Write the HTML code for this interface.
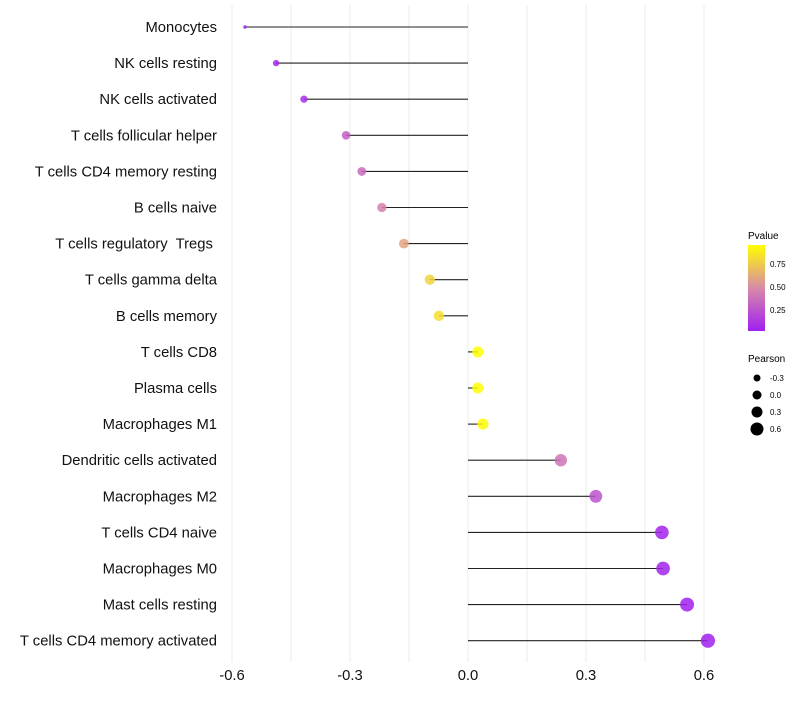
<!DOCTYPE html>
<html><head><meta charset="utf-8"><style>
body{margin:0;background:#fff;font-family:"Liberation Sans",sans-serif;}
svg text{font-family:"Liberation Sans",sans-serif;white-space:pre;}
</style></head><body>
<svg id="chart" width="800" height="700" xmlns="http://www.w3.org/2000/svg">
<defs><linearGradient id="pg" x1="0" y1="1" x2="0" y2="0">
<stop offset="0" stop-color="#a020f0"/><stop offset="0.5" stop-color="#d88aa8"/><stop offset="1" stop-color="#ffff00"/>
</linearGradient></defs>
<g id="grid"></g>
<g id="marks"></g>
<g id="ylabels"></g>
<g id="xlabels"></g>
<g>
<text x="748" y="239" font-size="10">Pvalue</text>
<rect x="748" y="245" width="17" height="86" fill="url(#pg)"/>
<text x="770" y="267" font-size="8">0.75</text>
<text x="770" y="290" font-size="8">0.50</text>
<text x="770" y="313" font-size="8">0.25</text>
</g>
<g id="sizeleg">
<text x="748" y="362" font-size="10">Pearson</text>
</g>
</svg>
<script>
const categories=["Monocytes","NK cells resting","NK cells activated","T cells follicular helper","T cells CD4 memory resting","B cells naive","T cells regulatory  Tregs ","T cells gamma delta","B cells memory","T cells CD8","Plasma cells","Macrophages M1","Dendritic cells activated","Macrophages M2","T cells CD4 naive","Macrophages M0","Mast cells resting","T cells CD4 memory activated"];
const pearson=[-0.567,-0.488,-0.417,-0.310,-0.270,-0.219,-0.163,-0.097,-0.074,0.025,0.025,0.038,0.236,0.325,0.493,0.496,0.557,0.610];
const pvalues=[0.02,0.06,0.1,0.3,0.35,0.45,0.6,0.78,0.82,0.97,0.97,0.93,0.4,0.25,0.05,0.05,0.03,0.02];
const xTicks=[-0.6,-0.3,0.0,0.3,0.6];
const xTickLabels=["-0.6","-0.3","0.0","0.3","0.6"];
const sizeLegendVals=[-0.3,0.0,0.3,0.6];
const NS="http://www.w3.org/2000/svg";
const xs=v=>468+v*393.3;
const ys=i=>27+i*36.1;
const rs=v=>1.8+5.3*Math.sqrt(Math.max(0,(v+0.567)/1.177));
function col(p){
 const a=[160,32,240],m=[216,138,168],b=[255,255,0];
 let t=Math.min(1,Math.max(0,(p-0.03)/0.92)),c;
 if(t<0.5){const u=t/0.5;c=a.map((x,k)=>Math.round(x+(m[k]-x)*u));}
 else{const u=(t-0.5)/0.5;c=m.map((x,k)=>Math.round(x+(b[k]-x)*u));}
 return `rgb(${c})`;
}
function mk(tag,at,parent){const e=document.createElementNS(NS,tag);for(const k in at)e.setAttribute(k,at[k]);parent.appendChild(e);return e;}
const grid=document.getElementById('grid'),marks=document.getElementById('marks'),yl=document.getElementById('ylabels'),xl=document.getElementById('xlabels');
for(let v=-0.6;v<=0.61;v+=0.15){
 const g=mk('line',{x1:xs(v),x2:xs(v),y1:5,y2:662,stroke:'#ebebeb','stroke-width':1},grid);
 
 
}
xTicks.forEach((v,i)=>{
 const t=mk('text',{x:xs(v),y:680,'font-size':14.8,'text-anchor':'middle',fill:'#111'},xl);
 t.textContent=xTickLabels[i];
 
 
});
categories.forEach((c,i)=>{
 const y=ys(i);
 const t=mk('text',{x:217,y:y+5,'font-size':14.8,'text-anchor':'end',fill:'#111'},yl);
 t.textContent=c;
 
 
 const l=mk('line',{x1:xs(0),x2:xs(pearson[i]),y1:y,y2:y,stroke:'#222','stroke-width':1.1},marks);
 
 
 const d=mk('circle',{cx:xs(pearson[i]),cy:y,r:rs(pearson[i]),fill:col(pvalues[i]),'fill-opacity':0.85},marks);
 
 
});
const sl=document.getElementById('sizeleg');
sizeLegendVals.forEach((v,i)=>{
 const y=378+i*17;
 const c=mk('circle',{cx:757,cy:y,r:3.5+i*1,fill:'#000'},sl);
 
 
 const t=mk('text',{x:770,y:y+3,'font-size':8},sl);
 t.textContent=v.toFixed(1);
 
 
});
</script>
</body></html>
